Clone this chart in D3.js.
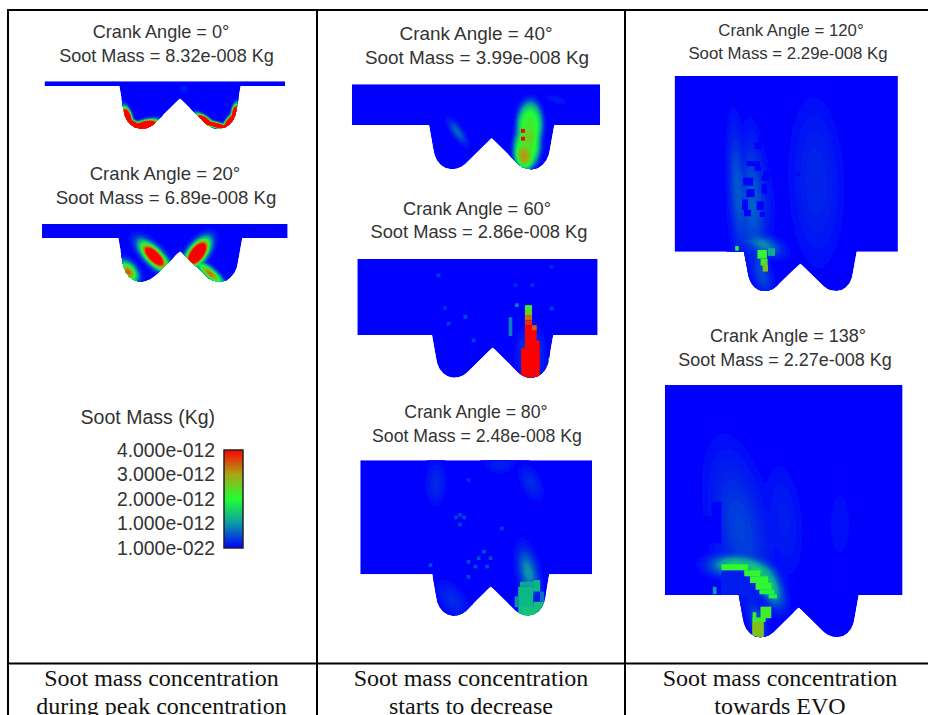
<!DOCTYPE html>
<meta charset="utf-8">
<style>
body { margin: 0; background: #fff; }
text { font-family: "Liberation Sans", Arial, sans-serif; fill: #333; }
.caption { font-family: "Liberation Serif", "Times New Roman", serif; font-size: 24px; fill: #111; }
.tick text { font-size: 19.4px; }
</style>
<body>
<script src="https://d3js.org/d3.v7.min.js"></script>
<script>
// values
const crankAngles = [0, 20, 40, 60, 80, 120, 138];
const sootMasses = ["8.32e-008", "6.89e-008", "3.99e-008", "2.86e-008", "2.48e-008", "2.29e-008", "2.27e-008"];
// height of the chamber above the piston rim, in mesh cells
const clearance = [1.24, 3.6, 10.4, 20.1, 31.1, 50.5, 56.1];

const legendValues = [0, 1, 2, 3, 4];   // soot mass, in 1e-12 Kg
const legendLabels = ["1.000e-022", "1.000e-012", "2.000e-012", "3.000e-012", "4.000e-012"];
const legendColors = ["#0000ff", "#0a9aa8", "#22ff33", "#aaa515", "#ff0000"];

const captions = [
  ["Soot mass concentration", "during peak concentration"],
  ["Soot mass concentration", "starts to decrease"],
  ["Soot mass concentration", "towards EVO"]
];

// half profile of the piston bowl, [cell column, cell row], mirrored below
const bowlHalf = [[-16, 0], [-14.9, 6.2], [-14.6, 7.6], [-14, 9], [-13, 10.2], [-11.8, 11], [-10.3, 11.3],
  [-9, 11.15], [-7.8, 10.7], [-6.8, 10], [-0.5, 3.8], [0, 3.4]];

// smooth soot clouds: [col1, row1, col2, row2, width, soot, edge sharpness (optional)]
const clouds = [
  [[-14.3, 7, -13.5, 9.5, 0.9, 9], [-13.5, 9.5, -11, 10.9, 0.8, 8], [-11, 10.9, -7.5, 10, 1.0, 10],
   [5.3, 8.3, 7.5, 9.8, 0.8, 8], [7.5, 9.8, 12, 11, 0.6, 7], [12, 11, 14.3, 8, 0.8, 8], [14.3, 8, 14.7, 5.8, 0.7, 7],
   [1, 0.8, 1, 0.8, 1, 0.25]],
  [[-8.5, 3, -5, 6.5, 1.7, 6], [5.5, 2.5, 3.2, 5.5, 1.8, 7.5], [-14, 8, -12.8, 9.6, 1.8, 3.5], [5.6, 7.4, 9.8, 11, 1.2, 3.4]],
  [[9.8, -2.6, 9.6, 3, 3.2, 2.2, 2], [9.3, 3, 8.8, 8, 3.3, 2.3, 2], [8, 7, 8.5, 9, 2.2, 2.9, 1.5], [-10, 0, -7.5, 3.5, 1.2, 0.7],
   [15, -7, 18, -6, 1, 0.2]],
  [[10, 2, 10, 9, 3, 0.6]],
  [[9.5, -4, 11, 3, 2.4, 1.0], [-15, -28, -15, -22, 2.5, 0.3], [10, -27, 12, -23, 2.5, 0.3], [1, -30, 4, -30, 2.5, 0.22],
   [-12, 5, -9, 9, 3, 0.3]],
  [[-18.5, -32, -17, -3, 2.4, 0.6], [-14, -28, -13, -2, 3.5, 0.6], [-14, -20, -14, -4, 5, 0.5], [4, -35, 5, -5, 7, 0.28],
   [-12, 2, -10, 10, 2.5, 0.5], [-13, -3, -8, -1, 2.5, 0.9]],
  [[-20.5, -8, -14, -8, 2.6, 1.5], [-14, -8, -9, -5.5, 2.6, 1.5], [-9, -5.5, -6.5, 0, 2.6, 1.5], [-18, -30, -13, -5, 7, 0.45],
   [-5, -30, -3, -10, 5, 0.2], [11, -30, 11, -8, 5, 0.1], [-12, 4, -10, 10, 2, 0.6]]
];

// blocky mesh cells: [col, row, width, height, soot]
const cells = [
  [],
  [],
  [[7.5, 1, 1, 1, 4.2], [7.5, 3, 1, 1, 4.2]],
  [[8.5, -7.9, 1.9, 1.3, 2.2], [8.5, -6.6, 1.9, 1.3, 2.6], [8.5, -5.3, 1.9, 1.4, 3.3], [8.5, -3.9, 1.9, 1.3, 3.7],
   [8.5, -2.6, 3.1, 4.2, 4.2], [10.4, -2.6, 1.2, 1.3, 3.4], [8.5, 1.5, 3.9, 2.1, 4.2], [7.5, 3.5, 4.9, 7.9, 4.2],
   [14.2, 8, 1, 1, 4.2], [14.6, 6, 0.7, 2, 1.0], [4.2, -4.7, 1, 5, 0.8],
   [-14.8, -16.3, 1, 1, 0.4], [-7.7, -5.3, 1, 1, 0.5], [-12.1, -3.5, 1, 1, 0.4], [5.9, -8.4, 1, 1, 0.8], [-5.5, 0.9, 1, 1, 0.4],
   [15.1, -7.5, 1, 1, 0.4], [10, -13.7, 1, 1, 0.3], [-13.1, -7.6, 1, 1, 0.3], [5.5, -13.7, 1, 1, 0.25], [15, -18.5, 1, 1, 0.25]],
  [[8, 2, 3.6, 1.4, 1.1], [7.5, 3.4, 4.1, 7.9, 1.3], [11.6, 1.6, 1.9, 3.1, 1.25], [11.6, 7.5, 3, 3.8, 1.35],
   [13.4, 4.7, 1.2, 2.8, 0.7], [6.5, 6, 1, 3, 0.9], [8.5, 9, 4, 2.3, 1.4],
   [-6.6, -3.9, 1, 1, 0.5], [-4.7, -2.6, 1, 1, 0.5], [-3.8, -4.9, 1, 1, 0.5], [-2.4, -6.7, 1, 1, 0.5], [-1.5, -2.6, 1, 1, 0.5],
   [-0.6, -4.9, 1, 1, 0.5], [-6.6, 0.2, 1, 1, 0.5], [-17, -3, 1, 1, 0.5], [-8.9, -16.7, 1, 1, 0.45], [-10, -16, 1, 1, 0.45],
   [-7.8, -16, 1, 1, 0.45], [-8.9, -14.1, 1, 1, 0.45], [2.5, -13, 1, 1, 0.4], [-6.6, -26.2, 1, 1, 0.3]],
  [[-12, -33.2, 1.5, 1.5, 0], [-13, -31.5, 2, 2, 0], [-15.3, -26, 3.8, 1.4, 0], [-13, -24.6, 1.8, 1.4, 0], [-16.2, -21.3, 2.8, 2.3, 0],
   [-10.5, -23.2, 3.2, 1.4, 0], [-11, -21.8, 2, 1.4, 0], [-15.3, -18, 2.3, 2.3, 0], [-11, -19.5, 1.5, 3, 0], [-16.5, -15, 1.6, 3, 0],
   [-12.4, -14.5, 2, 2.5, 0], [-11.5, -11.5, 1.5, 1.5, 0], [-16, -12, 2, 1.8, 0], [-1, -22.8, 1, 1, 0],
   [-9.2, -1, 2, 2.2, 1.2], [-12.2, -0.5, 2.7, 2.5, 2.1], [-11.3, 2, 2, 2, 2.3], [-10.7, 3.8, 1.5, 1.9, 2.7], [-18.5, -1.6, 1, 1.3, 2.1]],
  [[-25.4, -21, 4.8, 7.2, 0], [-23.2, -24.9, 2.6, 4, 0], [-20.6, -6.6, 6, 6.6, 0.2], [-14.6, -5, 1.6, 5, 0.2], [-13, -3.2, 1.5, 3.2, 0.2],
   [-11.5, -1.4, 1, 1.4, 0.2], [-20.6, -8.2, 7.1, 1.6, 2.1], [-14.5, -6.6, 4.3, 1.6, 2.1], [-13, -5, 4.8, 1.8, 2.1], [-11.5, -3.2, 4.2, 1.8, 2.1],
   [-10.5, -1.4, 4, 1.2, 1.9], [-8, -0.2, 2.2, 1.1, 1.9], [-22.9, -2.2, 1, 2, 1],
   [-12.4, 7.1, 3.1, 4.3, 2.7], [-12.3, 4.6, 1, 2.5, 2.2], [-10.2, 3.1, 2.9, 3.1, 2.2], [-12.3, 6, 3.5, 1.2, 2.2]]
];

const W = 928, H = 715;
// the chamber is not centred on the bowl
const CHAMBER_LEFT = -35.7, CHAMBER_RIGHT = 27.7;
const BOWL_HALF = 16, BOWL_DEPTH = 11.3, STEP = 0.2;

// where each panel's bowl sits on the page, and its two title lines
const layout = [
  {l: 119.3, r: 240.7, rim: 86, bot: 128.7, x1: 161, y1: 38, x2: 166.5, y2: 62, fs: 18.1},
  {l: 118.3, r: 242.3, rim: 238, bot: 281.7, x1: 165, y1: 180, x2: 166, y2: 204, fs: 18.6},
  {l: 429, r: 554.3, rim: 125, bot: 169.3, x1: 476, y1: 40, x2: 477, y2: 64, fs: 18.9},
  {l: 432, r: 553.3, rim: 335, bot: 377.7, x1: 477, y1: 215, x2: 479, y2: 238, fs: 18.3},
  {l: 432.3, r: 549.3, rim: 574.3, bot: 615.7, x1: 476, y1: 418, x2: 477, y2: 442, fs: 17.7},
  {l: 744, r: 856.7, rim: 251.7, bot: 291, x1: 791, y1: 36, x2: 788, y2: 59, fs: 16.8},
  {l: 738.7, r: 858.7, rim: 595, bot: 637.3, x1: 788, y1: 342, x2: 785, y2: 366, fs: 18}
];

var svg = d3.select("body").append("svg")
    .attr("width", W)
    .attr("height", H)
    .style("display", "block");

var defs = svg.append("defs");
defs.append("filter").attr("id", "soft")
    .attr("x", "-5%").attr("y", "-5%").attr("width", "110%").attr("height", "110%")
  .append("feGaussianBlur").attr("stdDeviation", 0.55);

var color = d3.scaleLinear().domain(legendValues).range(legendColors).clamp(true);

// soot at a point: every cloud is a soft ellipse along its axis, blended by a 4-norm
function sootAt(list, c, r) {
  var sum = 0;
  for (const s of list) {
    const dx = s[2] - s[0], dy = s[3] - s[1], len = Math.hypot(dx, dy) || 1;
    const half = Math.hypot(dx, dy) / 2;
    const ax = ((c - (s[0] + s[2]) / 2) * dx + (r - (s[1] + s[3]) / 2) * dy) / len;
    const pe = (-(c - (s[0] + s[2]) / 2) * dy + (r - (s[1] + s[3]) / 2) * dx) / len;
    const q = half ? (ax * ax) / ((half + s[4]) * (half + s[4])) + (pe * pe) / (s[4] * s[4])
                   : ((c - s[0]) * (c - s[0]) + (r - s[1]) * (r - s[1])) / (s[4] * s[4]);
    sum += Math.pow(s[5] * Math.exp(-Math.pow(q, s[6] || 1)), 4);
  }
  return Math.pow(sum, 0.25);
}

var levels = d3.range(0.03, 4.01, 0.05);

crankAngles.forEach(function(angle, i) {
  const box = layout[i], top = -clearance[i];
  const x = d3.scaleLinear().domain([-BOWL_HALF, BOWL_HALF]).range([box.l, box.r]);
  const y = d3.scaleLinear().domain([0, BOWL_DEPTH]).range([box.rim, box.bot]);

  const mirrored = bowlHalf.slice(0, -1).map(p => [-p[0], p[1]]);
  const outline = [[CHAMBER_LEFT, top], [CHAMBER_RIGHT, top], [CHAMBER_RIGHT, 0]]
      .concat(mirrored, bowlHalf.slice().reverse(), [[CHAMBER_LEFT, 0]]);
  const shape = d3.line().x(p => x(p[0])).y(p => y(p[1]))(outline) + "Z";

  defs.append("clipPath").attr("id", "clip" + i).append("path").attr("d", shape);

  var panel = svg.append("g").attr("filter", "url(#soft)")
    .append("g").attr("clip-path", "url(#clip" + i + ")");
  panel.append("path").attr("d", shape).attr("fill", color(0));

  // soot field on a fine grid, then filled contours
  const n = Math.ceil((CHAMBER_RIGHT - CHAMBER_LEFT) / STEP) + 2, m = Math.ceil((BOWL_DEPTH - top) / STEP) + 2;
  const field = new Float64Array(n * m);
  for (let b = 0; b < m; b++) {
    for (let a = 0; a < n; a++) {
      field[a + b * n] = sootAt(clouds[i], CHAMBER_LEFT + a * STEP, top + b * STEP);
    }
  }
  const toPage = d3.geoTransform({
    point: function(a, b) {
      this.stream.point(x(CHAMBER_LEFT + (a - 0.5) * STEP), y(top + (b - 0.5) * STEP));
    }
  });
  panel.append("g").selectAll("path")
    .data(d3.contours().size([n, m]).thresholds(levels)(field))
    .enter().append("path")
      .attr("d", d3.geoPath(toPage))
      .attr("fill", d => color(d.value));

  panel.append("g").selectAll("rect")
    .data(cells[i])
    .enter().append("rect")
      .attr("x", d => x(d[0]))
      .attr("y", d => y(d[1]))
      .attr("width", d => x(d[0] + d[2]) - x(d[0]))
      .attr("height", d => y(d[1] + d[3]) - y(d[1]))
      .attr("fill", d => color(d[4]));

  svg.append("text")
      .attr("x", box.x1).attr("y", box.y1)
      .attr("text-anchor", "middle").attr("font-size", box.fs)
      .text("Crank Angle = " + angle + "°");
  svg.append("text")
      .attr("x", box.x2).attr("y", box.y2)
      .attr("text-anchor", "middle").attr("font-size", box.fs)
      .text("Soot Mass = " + sootMasses[i] + " Kg");
});

// colour bar
var grad = defs.append("linearGradient").attr("id", "bar")
    .attr("x1", 0).attr("x2", 0).attr("y1", 1).attr("y2", 0);
legendValues.forEach(function(v, i) {
  grad.append("stop").attr("offset", i / 4).attr("stop-color", color(v));
});
var legendY = d3.scaleLinear().domain([0, 4]).range([548, 450]);
svg.append("rect")
    .attr("x", 224).attr("y", legendY(4))
    .attr("width", 19).attr("height", legendY(0) - legendY(4))
    .attr("fill", "url(#bar)").attr("stroke", "#222").attr("stroke-width", 1.5);
svg.append("g")
    .attr("transform", "translate(224,0)")
    .call(d3.axisLeft(legendY).tickValues(legendValues).tickSize(0).tickPadding(9)
      .tickFormat((d, i) => legendLabels[i]))
    .call(g => g.select(".domain").remove());
svg.selectAll(".tick text").attr("fill", null);
svg.append("text")
    .attr("x", 215).attr("y", 424)
    .attr("text-anchor", "end").attr("font-size", 19.5)
    .text("Soot Mass (Kg)");

// table rules
var rules = [[8, 10, 8, H], [317, 10, 317, H], [625, 10, 625, H], [7, 10, W, 10], [7, 663.5, W, 663.5]];
svg.append("g").selectAll("line")
  .data(rules)
  .enter().append("line")
    .attr("x1", d => d[0]).attr("y1", d => d[1])
    .attr("x2", d => d[2]).attr("y2", d => d[3])
    .attr("stroke", "#000").attr("stroke-width", 2);

// captions under each column
[161.5, 471, 780].forEach(function(cx, i) {
  captions[i].forEach(function(line, j) {
    svg.append("text").attr("class", "caption")
        .attr("x", cx).attr("y", 686 + j * 27.5)
        .attr("text-anchor", "middle")
        .text(line);
  });
});
</script>
</body>
